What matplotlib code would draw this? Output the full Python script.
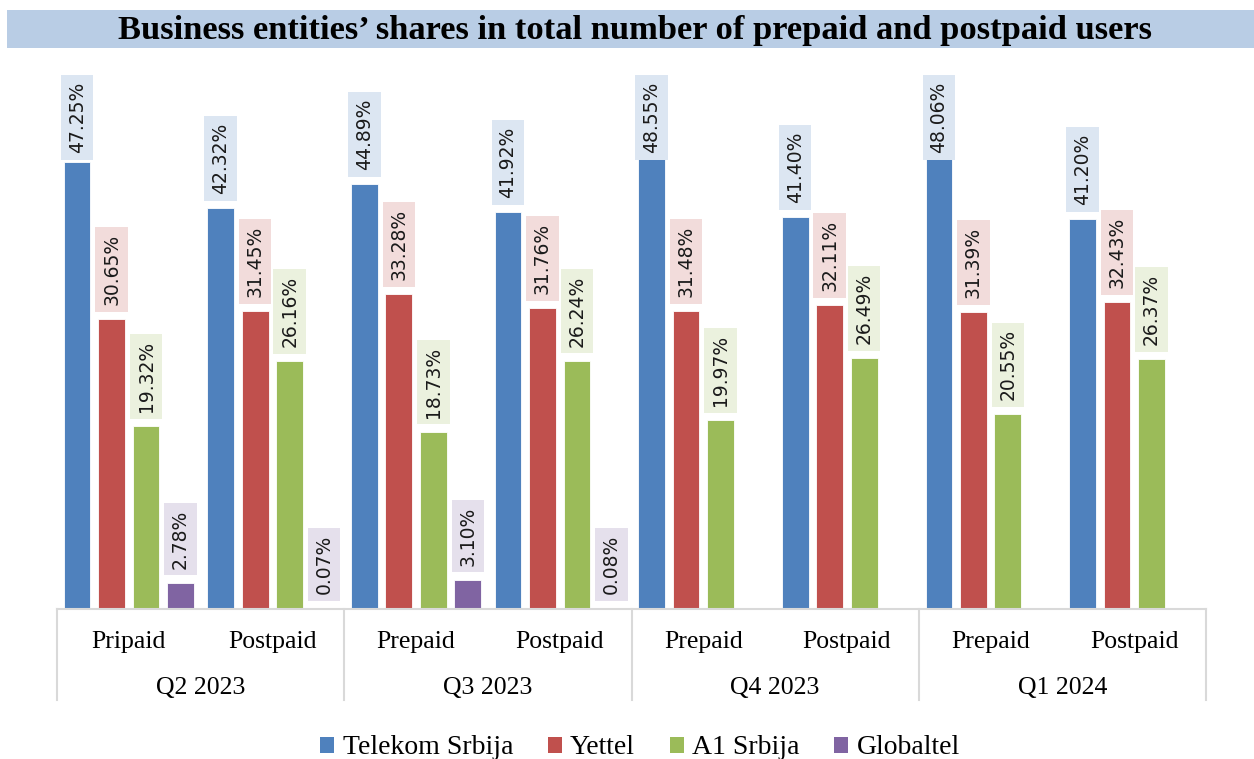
import matplotlib.pyplot as plt
import matplotlib.transforms as mtransforms
from matplotlib.patches import Rectangle, Patch

# data
quarters = ["Q2 2023", "Q3 2023", "Q4 2023", "Q1 2024"]
user_types = ["Pripaid", "Postpaid", "Prepaid", "Postpaid",
              "Prepaid", "Postpaid", "Prepaid", "Postpaid"]
operators = ["Telekom Srbija", "Yettel", "A1 Srbija", "Globaltel"]
telekom = [47.25, 42.32, 44.89, 41.92, 48.55, 41.40, 48.06, 41.20]
yettel = [30.65, 31.45, 33.28, 31.76, 31.48, 32.11, 31.39, 32.43]
a1 = [19.32, 26.16, 18.73, 26.24, 19.97, 26.49, 20.55, 26.37]
globaltel = [2.78, 0.07, 3.10, 0.08, None, None, None, None]

series = [telekom, yettel, a1, globaltel]
bar_colors = ["#4f81bd", "#c0504d", "#9bbb59", "#8064a2"]
box_colors = ["#dce6f2", "#f2dcdb", "#ebf1de", "#e5e0ec"]

W, H = 1254, 759
fig = plt.figure(figsize=(W / 100, H / 100), dpi=100)
ax = fig.add_axes([57 / W, 1 - 609 / H, (1206 - 57) / W, (609 - 75) / H])

ymax = (609 - 75) / 9.467
ax.set_ylim(0, ymax)
ax.set_xlim(-0.5, len(user_types) - 0.5)

slot = 0.24
bar_w = 0.186
px_per_unit = 9.467

texts = []
for i, (vals, col, bcol) in enumerate(zip(series, bar_colors, box_colors)):
    off = (i - 1.5) * slot
    for j, v in enumerate(vals):
        if v is None:
            continue
        ax.bar(j + off, v, width=bar_w, color=col, edgecolor="white", linewidth=0.6)
        t = ax.text(j + off, v + 14 / px_per_unit, f"{v:.2f}%", rotation=90,
                    ha="center", va="bottom", fontsize=13.5, family="DejaVu Sans",
                    color="#1a1a1a",
                    bbox=dict(boxstyle="square,pad=0.36", facecolor=bcol, edgecolor="none"))
        texts.append(t)

# keep labels inside the plot area like Excel does
fig.canvas.draw()
ax_top = ax.get_window_extent().y1
for t in texts:
    ext = t.get_bbox_patch().get_window_extent()
    if ext.y1 > ax_top:
        shift = (ext.y1 - ax_top) / px_per_unit
        x, y = t.get_position()
        t.set_position((x, y - shift))

for s in ["top", "right", "left", "bottom"]:
    ax.spines[s].set_visible(False)
ax.set_xticks([])
ax.set_yticks([])

# two level category axis
trans = mtransforms.blended_transform_factory(ax.transData, ax.transAxes)
axis_h = 609 - 75
grid_col = "#d9d9d9"
ax.plot([-0.5, len(user_types) - 0.5], [0, 0], color=grid_col, lw=1.5,
        transform=trans, clip_on=False)
for k in range(len(quarters) + 1):
    x = -0.5 + 2 * k
    ax.plot([x, x], [0, -91 / axis_h], color=grid_col, lw=1.5,
            transform=trans, clip_on=False)
for j, lab in enumerate(user_types):
    ax.text(j, -33 / axis_h, lab, transform=trans, ha="center", va="center",
            fontsize=18.5, family="Liberation Serif")
for k, q in enumerate(quarters):
    ax.text(2 * k + 0.5, -79 / axis_h, q, transform=trans, ha="center", va="center",
            fontsize=18.5, family="Liberation Serif")

# title band
fig.patches.append(Rectangle((7 / W, 1 - 48 / H), 1 - 7 / W, 38 / H,
                             transform=fig.transFigure, facecolor="#b9cde5",
                             edgecolor="none", zorder=0))
fig.text(635 / W, 1 - 30 / H, "Business entities’ shares in total number of prepaid and postpaid users",
         ha="center", va="center", fontsize=24.8, fontweight="bold", family="Liberation Serif")

handles = [Patch(facecolor=c, edgecolor="none") for c in bar_colors]
fig.legend(handles, operators, loc="center", bbox_to_anchor=(640 / W, 1 - 748 / H),
           ncol=4, frameon=False, prop={"family": "Liberation Serif", "size": 20},
           handlelength=0.5, handleheight=0.5, handletextpad=0.3, columnspacing=1.25)

fig.savefig("out.png", dpi=100)
